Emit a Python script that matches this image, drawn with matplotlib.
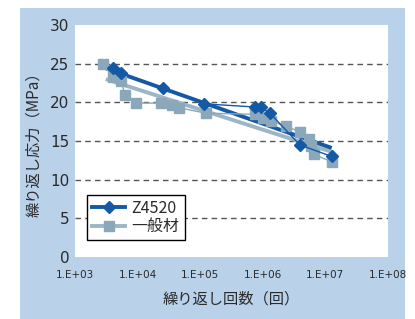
import numpy as np
import matplotlib
matplotlib.use('Agg')
import matplotlib.pyplot as plt
from matplotlib.patches import Rectangle
from matplotlib.lines import Line2D

plt.rcParams['font.family'] = ['Noto Sans CJK JP', 'DejaVu Sans']

# Z4520 test points (cycles, stress MPa)
z_cycles = [4.0e3, 5.4e3, 2.5e4, 1.17e5, 7.4e5, 9.5e5, 1.3e6, 3.9e6, 1.26e7]
z_stress = [24.5, 23.8, 21.8, 19.8, 19.4, 19.35, 18.6, 14.5, 13.0]

# 一般材 test points
g_cycles = [2.75e3, 4.1e3, 5.4e3, 6.3e3, 9.3e3, 2.4e4, 3.6e4, 4.6e4, 1.23e5,
            7.4e5, 1.0e6, 1.35e6, 2.35e6, 3.9e6, 5.5e6, 5.9e6, 6.5e6, 1.26e7]
g_stress = [24.9, 23.3, 22.8, 21.0, 19.9, 19.9, 19.6, 19.3, 18.6,
            18.45, 18.0, 17.6, 16.9, 16.2, 15.2, 14.3, 13.3, 12.3]

# trend lines (end points)
trend_cycles = [3.1e3, 1.26e7]
z_trend = [24.4, 14.1]
g_trend = [23.0, 13.6]

xticks = [1e3, 1e4, 1e5, 1e6, 1e7, 1e8]
xlabels = ['1.E+03', '1.E+04', '1.E+05', '1.E+06', '1.E+07', '1.E+08']

blue = '#1459a6'
gray = '#8aa8ba'
gray_line = '#9cb6c6'
bg = '#bad1ea'
txt = '#2a2a2a'

fig = plt.figure(figsize=(4.15, 3.19), dpi=100)
fig.patch.set_facecolor('white')
fig.patches.append(Rectangle((20 / 415, 0), 385 / 415, 311 / 319,
                             transform=fig.transFigure, facecolor=bg,
                             edgecolor='none', zorder=-10))

ax = fig.add_axes([75 / 415, 1 - 257 / 319, 313 / 415, 232 / 319])
ax.set_facecolor('white')
for s in ax.spines.values():
    s.set_visible(False)

ax.set_xscale('log')
ax.set_xlim(1e3, 1e8)
ax.set_ylim(0, 30)

for v in [5, 10, 15, 20, 25]:
    ax.axhline(v, color='#555555', lw=1.0, ls=(0, (4, 3)), zorder=1)

ax.plot(trend_cycles, g_trend, color=gray_line, lw=2.8, zorder=2, solid_capstyle='butt')
ax.plot(trend_cycles, z_trend, color=blue, lw=2.8, zorder=3, solid_capstyle='butt')

ax.plot(g_cycles, g_stress, color=gray, lw=1.0, marker='s', ms=7,
        mec=gray, mfc=gray, zorder=4)
ax.plot(z_cycles, z_stress, color=blue, lw=1.0, marker='D', ms=6.5,
        mec=blue, mfc=blue, zorder=5)

ax.set_xticks(xticks)
ax.set_xticklabels(xlabels, fontsize=7.5, color=txt,
                   family=['Liberation Sans Narrow', 'DejaVu Sans'])
ax.xaxis.set_minor_locator(matplotlib.ticker.NullLocator())
ax.set_yticks(range(0, 31, 5))
ax.tick_params(axis='y', length=0, pad=4, labelsize=11, labelcolor=txt)
ax.tick_params(axis='x', length=0, pad=9)
for t in ax.get_yticklabels():
    t.set_family(['Liberation Sans Narrow', 'DejaVu Sans'])

ax.set_xlabel('繰り返し回数（回）', fontsize=11, labelpad=8, color=txt)
ax.set_ylabel('繰り返し応力（MPa）', fontsize=11, labelpad=6, color=txt)

handles = [Line2D([], [], color=blue, lw=2.8, marker='D', ms=6.5),
           Line2D([], [], color=gray_line, lw=2.8, marker='s', ms=6.5, mfc=gray, mec=gray)]
leg = ax.legend(handles, ['Z4520', '一般材'], loc='lower left',
                bbox_to_anchor=(12 / 313, 17 / 232), fontsize=11.5,
                frameon=True, fancybox=False, edgecolor='black', framealpha=1,
                handlelength=2.1, borderpad=0.3, labelspacing=0.1, handletextpad=0.4,
                borderaxespad=0)
leg.get_frame().set_linewidth(1.0)
for t in leg.get_texts():
    t.set_color(txt)

fig.savefig('out.png', dpi=100)
